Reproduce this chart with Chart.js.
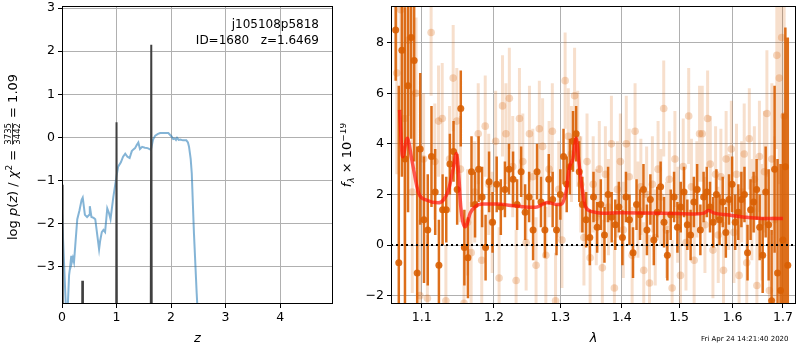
<!DOCTYPE html>
<html>
<head>
<meta charset="utf-8">
<script src="https://cdn.jsdelivr.net/npm/chart.js@4/dist/chart.umd.min.js"></script>
<style>
  body { margin: 0; background: #fff; }
  #wrap { position: relative; width: 800px; height: 350px; }
  #pzBox { position: absolute; left: 0; top: 0; width: 340px; height: 350px; }
  #specBox { position: absolute; left: 340px; top: 0; width: 460px; height: 350px; }
  #stamp { position: absolute; left: 701px; top: 335px; font: 7px "DejaVu Sans", sans-serif; color: #000; white-space: nowrap; }
</style>
</head>
<body>
<div id="wrap">
  <div id="pzBox"><canvas id="pzChart"></canvas></div>
  <div id="specBox"><canvas id="specChart"></canvas></div>
  <div id="stamp">Fri Apr 24 14:21:40 2020</div>
</div>
<script>
// ---- left panel: log p(z) ----
const pzZ = [0.0, 0.03, 0.06, 0.08, 0.10, 0.13, 0.15, 0.17, 0.18, 0.20, 0.22, 0.25, 0.28, 0.32, 0.36, 0.38, 0.40, 0.42, 0.46, 0.50,
             0.51, 0.54, 0.58, 0.61, 0.65, 0.68, 0.70, 0.73, 0.76, 0.79, 0.83, 0.86, 0.89, 0.94, 1.0, 1.03, 1.08, 1.12, 1.16, 1.20,
             1.24, 1.28, 1.31, 1.34, 1.37, 1.40, 1.43, 1.47, 1.52, 1.57, 1.63, 1.67, 1.71, 1.76, 1.80, 1.88, 1.95, 2.01, 2.04, 2.07,
             2.09, 2.11, 2.14, 2.17, 2.22, 2.28, 2.31, 2.33, 2.36, 2.38, 2.42, 2.47, 2.52];
const pzLog = [-1.75, -2.7, -3.6, -4.2, -4.1, -3.2, -3.0, -2.75, -2.9, -2.8, -2.9, -2.4, -1.9, -1.7, -1.45, -1.4, -1.6, -1.8, -1.85, -1.8,
               -1.6, -1.85, -1.87, -1.9, -2.3, -2.6, -2.4, -2.2, -2.15, -2.2, -1.65, -1.75, -1.9, -1.4, -0.9, -0.68, -0.58, -0.45, -0.38, -0.45,
               -0.48, -0.32, -0.28, -0.25, -0.18, -0.12, -0.27, -0.22, -0.24, -0.25, -0.29, -0.05, 0.04, 0.08, 0.10, 0.10, 0.10, 0.02, -0.04, -0.03,
               -0.06, -0.01, -0.06, -0.05, -0.07, -0.07, -0.12, -0.22, -0.5, -0.84, -2.23, -3.62, -4.8];

const spikeZ = [0.0, 0.008, 0.014, 0.02, 0.36, 0.372, 0.384, 0.985, 1.0, 1.015, 1.618, 1.637, 1.656, 1.7];
const spikeLog = [-1.1, -1.14, -1.12, -12, -12, -3.33, -12, -12, 0.35, -12, -12, 2.15, -12, -12];

const zTicks = [0, 1, 2, 3, 4];
const pzTicks = [-3, -2, -1, 0, 1, 2, 3];

// ---- right panel: spectrum ----
const darkWave = [1.066,1.070,1.074,1.078,1.082,1.086,1.090,1.094,1.098,1.103,
                  1.108,1.113,1.118,1.123,1.128,1.133,1.138,1.143,1.148,1.153,
                  1.158,1.163,1.168,1.173,1.178,1.183,1.188,1.193,1.198,1.204,
                  1.210,1.216,1.222,1.228,1.234,1.240,1.246,1.252,1.258,1.264,
                  1.270,1.276,1.282,1.288,1.294,1.300,1.305,1.310,1.315,1.320,
                  1.325,1.330,1.335,1.341,1.347,1.353,1.359,1.365,1.371,1.377,
                  1.383,1.389,1.395,1.401,1.407,1.413,1.419,1.425,1.431,1.437,
                  1.443,1.449,1.455,1.461,1.467,1.473,1.479,1.485,1.491,1.497,
                  1.503,1.509,1.515,1.521,1.527,1.533,1.539,1.545,1.551,1.557,
                  1.563,1.569,1.575,1.581,1.587,1.593,1.599,1.605,1.611,1.617,
                  1.623,1.629,1.635,1.641,1.647,1.653,1.659,1.665,1.671,1.677,
                  1.683,1.689,1.695,1.700,1.705,1.710];
const darkFlux = [8.5,-0.7,7.7,3.4,6.3,8.2,7.3,-1.1,3.8,1.0,
                  0.6,3.5,2.1,-0.8,1.4,1.4,3.2,3.7,2.2,5.4,
                  -0.1,-0.5,2.9,1.6,3.0,1.9,-0.1,2.5,0.9,2.4,
                  1.5,2.2,3.0,2.6,1.6,2.9,1.3,1.9,0.6,2.9,
                  1.7,0.6,2.6,1.8,0.6,2.0,3.5,2.4,3.1,4.1,
                  4.4,2.9,1.6,1.0,0.3,1.9,0.7,1.6,0.4,2.0,
                  1.1,0.8,1.5,0.3,1.9,1.0,-0.3,1.6,1.2,2.2,
                  0.6,1.8,0.2,1.3,2.3,0.9,-0.4,1.2,1.9,0.7,
                  1.5,2.1,0.8,0.4,1.7,2.2,0.6,1.9,2.1,1.5,
                  0.9,2.0,1.0,1.7,0.5,1.8,2.4,0.9,1.3,1.8,
                  2.0,-0.3,1.4,1.7,2.2,0.7,-0.4,2.1,0.8,-2.2,
                  3.0,-1.1,-1.8,0.2,3.1,-0.8];
const darkErr = [2.0,7.0,5.0,6.0,5.0,4.0,4.0,5.0,3.0,2.5,
                 2.2,2.0,1.7,1.8,1.4,1.3,1.2,1.2,1.4,1.5,
                 1.5,1.6,1.4,1.3,1.3,1.2,1.3,1.2,1.2,1.1,
                 1.1,1.1,1.0,1.1,1.0,1.0,1.1,1.0,1.2,1.1,
                 1.0,1.1,1.0,1.1,1.0,1.0,1.1,1.1,1.1,1.2,
                 1.1,1.2,1.1,1.1,1.1,1.0,1.0,1.0,1.1,1.1,
                 1.0,1.0,1.0,1.1,1.0,1.0,1.0,1.0,1.0,1.0,
                 1.0,1.0,1.0,1.0,1.0,1.0,1.0,1.0,1.0,1.0,
                 1.0,1.0,1.0,1.0,1.0,1.0,1.0,1.0,1.0,1.0,
                 1.0,1.0,1.0,1.0,1.0,1.0,1.1,1.1,1.1,1.1,
                 1.1,1.1,1.2,1.2,1.2,1.3,1.5,1.8,2.2,2.8,
                 3.3,4.5,5.0,5.0,5.5,9.0];

const lightWave = [1.0675,1.0725,1.0775,1.0825,1.0875,1.0925,1.0975,1.1025,1.1075,1.1125,
                   1.1175,1.1225,1.1275,1.1325,1.1375,1.1425,1.1475,1.1525,1.1575,1.1625,
                   1.1675,1.1725,1.1775,1.1825,1.1875,1.1925,1.1975,1.2025,1.2075,1.2125,
                   1.2175,1.2225,1.2275,1.2325,1.2375,1.2425,1.2475,1.2525,1.2575,1.2625,
                   1.2675,1.2725,1.2775,1.2825,1.2875,1.2925,1.2975,1.3025,1.3075,1.3125,
                   1.3175,1.3225,1.3275,1.3325,1.3375,1.3425,1.3475,1.3525,1.3575,1.3625,
                   1.3675,1.3725,1.3775,1.3825,1.3875,1.3925,1.3975,1.4025,1.4075,1.4125,
                   1.4175,1.4225,1.4275,1.4325,1.4375,1.4425,1.4475,1.4525,1.4575,1.4625,
                   1.4675,1.4725,1.4775,1.4825,1.4875,1.4925,1.4975,1.5025,1.5075,1.5125,
                   1.5175,1.5225,1.5275,1.5325,1.5375,1.5425,1.5475,1.5525,1.5575,1.5625,
                   1.5675,1.5725,1.5775,1.5825,1.5875,1.5925,1.5975,1.6025,1.6075,1.6125,
                   1.6175,1.6225,1.6275,1.6325,1.6375,1.6425,1.6475,1.6525,1.6575,1.6625,
                   1.6675,1.6725,1.6775,1.6825,1.6875,1.6925,1.6975,1.7025];
const lightFlux = [6.8,9.3,5.0,8.1,2.1,6.0,-2.0,3.4,-2.1,8.4,
                   3.3,4.9,5.0,-2.2,3.4,6.6,4.9,3.0,-2.3,0.9,
                   -0.3,2.1,4.4,-0.6,4.7,2.4,0.9,4.1,-1.3,5.5,
                   4.4,5.8,3.1,-1.4,5.0,3.3,0.1,4.4,2.7,-0.8,
                   4.6,3.9,-0.4,3.0,4.5,-2.2,2.2,0.2,6.5,4.3,
                   3.6,5.9,4.2,2.4,0.3,3.3,-0.5,2.4,1.1,3.0,
                   -0.9,2.8,1.5,4.0,-1.7,2.2,3.3,0.6,4.0,2.7,
                   -0.4,4.5,1.4,2.3,-1.0,2.0,-1.5,2.4,0.3,3.0,
                   1.9,5.4,0.6,2.6,-1.7,3.4,1.2,-1.2,3.1,0.1,
                   5.1,2.3,-0.6,2.2,4.4,4.4,0.8,5.0,3.2,-0.2,
                   2.8,0.4,2.7,-1.0,3.4,1.7,3.8,0.5,2.8,-1.2,
                   2.1,3.6,-0.7,4.2,1.4,2.6,-1.6,3.5,0.9,2.9,
                   5.2,-1.8,3.4,1.0,7.5,6.6,8.2,5.1];
const lightErr = [4.0,4.0,5.0,3.0,4.0,3.0,3.0,2.6,2.5,2.5,
                  2.3,2.2,2.2,2.2,2.1,2.1,2.1,2.1,2.1,2.1,
                  2.0,2.0,2.0,2.0,2.0,2.0,2.0,2.0,2.0,2.0,
                  2.0,2.0,2.0,2.0,2.0,1.9,1.9,1.9,1.9,1.9,
                  1.9,1.9,1.9,1.9,1.9,1.9,1.9,1.9,1.9,1.9,
                  1.9,1.9,1.9,1.9,1.9,1.9,1.9,1.9,1.9,1.9,
                  1.9,1.9,1.9,1.9,1.9,1.9,1.9,1.9,1.9,1.9,
                  1.9,1.9,1.9,1.9,1.9,1.9,1.9,1.9,1.9,1.9,
                  1.9,1.9,1.9,1.9,1.9,1.9,1.9,1.9,1.9,1.9,
                  1.9,1.9,1.9,1.9,1.9,1.9,1.9,1.9,1.9,1.9,
                  1.9,1.9,1.9,1.9,1.9,1.9,1.9,2.0,2.0,2.0,
                  2.0,2.0,2.0,2.0,2.0,2.1,2.2,2.2,2.3,2.4,
                  2.5,2.7,3.0,3.3,3.7,4.2,5.0,5.0];

const modelWave = [1.071,1.075,1.081,1.087,1.096,1.106,1.122,1.129,1.136,1.143,
                   1.147,1.150,1.153,1.159,1.162,1.166,1.173,1.184,1.203,1.233,
                   1.262,1.273,1.280,1.296,1.301,1.309,1.314,1.320,1.325,1.329,
                   1.335,1.340,1.351,1.367,1.397,1.473,1.531,1.546,1.554,1.565,
                   1.593,1.624,1.657,1.700];
const modelFlux = [5.34,3.49,4.22,3.36,2.04,1.78,1.67,1.78,2.17,3.09,
                   3.62,2.83,1.51,0.72,0.86,1.25,1.51,1.62,1.62,1.54,
                   1.49,1.62,1.68,1.60,1.60,2.10,3.03,3.43,4.22,3.36,
                   2.17,1.51,1.32,1.26,1.28,1.26,1.23,1.26,1.37,1.26,
                   1.19,1.10,1.05,1.05];

const zeroWave = [1.06, 1.727];
const zeroFlux = [0, 0];

const waveTicks = [1.1, 1.2, 1.3, 1.4, 1.5, 1.6, 1.7];
const fluxTicks = [-2, 0, 2, 4, 6, 8];

// ---- helpers ----
const FONT = '"DejaVu Sans", sans-serif';
Chart.defaults.font.family = FONT;
Chart.defaults.font.size = 12.5;
Chart.defaults.color = '#000';
Chart.defaults.animation = false;

const DARK = 'rgba(217,95,2,0.9)';
const LIGHT = 'rgba(217,95,2,0.2)';
const LIGHT_PT = 'rgba(217,95,2,0.25)';

function xy(xs, ys) {
  return xs.map((x, i) => ({ x: x, y: ys[i] }));
}

// vertical error segments, separated by gaps
function errSegments(wave, flux, err) {
  const out = [];
  wave.forEach((w, i) => {
    out.push({ x: w, y: flux[i] - err[i] }, { x: w, y: flux[i] + err[i] }, { x: w, y: null });
  });
  return out;
}

function minus(v) {
  return String(v).replace('-', '\u2212');
}

function gridOpts() {
  return { color: '#b0b0b0', lineWidth: 1, tickColor: '#000', tickLength: 4, drawTicks: true };
}

// drop the label overhang padding so the plot area sits where we want it
function noPad(s) {
  s.paddingTop = 0;
  s.paddingBottom = 0;
  s.paddingLeft = 0;
  s.paddingRight = 0;
}

// black frame round the plot area
const framePlugin = {
  id: 'frame',
  afterDatasetsDraw(chart) {
    const a = chart.chartArea, ctx = chart.ctx;
    ctx.save();
    ctx.strokeStyle = '#000';
    ctx.lineWidth = 1;
    ctx.strokeRect(a.left + 0.5, a.top + 0.5, a.right - a.left - 1, a.bottom - a.top - 1);
    ctx.restore();
  }
};

// rotated label made of pieces (italic, sub/superscript, fraction)
function drawRich(ctx, parts, cx, cy) {
  ctx.save();
  ctx.translate(cx, cy);
  ctx.rotate(-Math.PI / 2);
  ctx.fillStyle = '#000';
  let total = 0;
  parts.forEach(p => {
    ctx.font = p.font;
    if (p.frac) {
      p.w = Math.max(ctx.measureText(p.frac[0]).width, ctx.measureText(p.frac[1]).width) + 2;
    } else {
      p.w = ctx.measureText(p.t).width;
    }
    total += p.w;
  });
  let x = -total / 2;
  const base = 5;
  ctx.textBaseline = 'alphabetic';
  parts.forEach(p => {
    ctx.font = p.font;
    if (p.frac) {
      ctx.textAlign = 'center';
      const bar = base - 4.5;
      ctx.fillText(p.frac[0], x + p.w / 2, bar - 1.5);
      ctx.fillText(p.frac[1], x + p.w / 2, bar + 7.5);
      ctx.fillRect(x + 1, bar - 0.4, p.w - 2, 0.8);
      ctx.textAlign = 'left';
    } else {
      ctx.textAlign = 'left';
      ctx.fillText(p.t, x, base + (p.dy || 0));
    }
    x += p.w;
  });
  ctx.restore();
}

const N = '13px ' + FONT, I = 'italic 13px ' + FONT, S = '9px ' + FONT, SI = 'italic 9px ' + FONT, F = '8.5px ' + FONT;

const pzLabelPlugin = {
  id: 'pzLabel',
  afterDraw(chart) {
    const a = chart.chartArea, ctx = chart.ctx;
    drawRich(ctx, [
      { t: 'log ', font: N }, { t: 'p', font: I }, { t: '(', font: N }, { t: 'z', font: I }, { t: ') / ', font: N },
      { t: '\u03c7', font: I }, { t: '2', font: S, dy: -5 }, { t: ' = ', font: N },
      { frac: ['3735', '3442'], font: F }, { t: ' = 1.09', font: N }
    ], 12, (a.top + a.bottom) / 2 + 2);
    ctx.save();
    ctx.font = '12px ' + FONT;
    ctx.textAlign = 'right';
    ctx.fillStyle = '#000';
    ctx.fillText('j105108p5818', a.right - 14, a.top + 22);
    ctx.fillText('ID=1680   z=1.6469', a.right - 14, a.top + 38);
    ctx.restore();
  }
};

const specLabelPlugin = {
  id: 'specLabel',
  afterDraw(chart) {
    const a = chart.chartArea;
    drawRich(chart.ctx, [
      { t: 'f', font: I }, { t: '\u03bb', font: SI, dy: 3 }, { t: ' \u00d7 10', font: N }, { t: '\u221219', font: S, dy: -5 }
    ], 6, (a.top + a.bottom) / 2);
  }
};

// ---- left chart ----
new Chart(document.getElementById('pzChart'), {
  type: 'line',
  data: {
    datasets: [
      { data: xy(spikeZ, spikeLog), borderColor: '#404040', borderWidth: 2, pointRadius: 0, order: 1 },
      { data: xy(pzZ, pzLog), borderColor: 'rgba(31,119,180,0.55)', borderWidth: 2, pointRadius: 0, order: 2 }
    ]
  },
  options: {
    responsive: true,
    maintainAspectRatio: false,
    layout: { padding: { top: 6, right: 7, left: 0, bottom: 0 } },
    plugins: { legend: { display: false }, tooltip: { enabled: false } },
    scales: {
      x: {
        type: 'linear', min: 0, max: 4.97,
        afterBuildTicks: s => { s.ticks = zTicks.map(v => ({ value: v })); },
        afterFit: s => { s.height = 46; noPad(s); },
        ticks: { padding: 2, callback: v => minus(v) },
        grid: gridOpts(),
        border: { display: false },
        title: { display: true, text: 'z', font: { style: 'italic', size: 13 }, padding: { top: 2 } }
      },
      y: {
        min: -3.87, max: 3.05,
        afterBuildTicks: s => { s.ticks = pzTicks.map(v => ({ value: v })); },
        afterFit: s => { s.width = 62; noPad(s); },
        ticks: { padding: 3, callback: v => minus(v) },
        grid: gridOpts(),
        border: { display: false }
      }
    }
  },
  plugins: [framePlugin, pzLabelPlugin]
});

// ---- right chart ----
new Chart(document.getElementById('specChart'), {
  type: 'line',
  data: {
    datasets: [
      { data: errSegments(lightWave, lightFlux, lightErr), borderColor: LIGHT, borderWidth: 3, borderCapStyle: 'butt',
        pointRadius: 0, spanGaps: false, order: 6 },
      { data: xy(lightWave, lightFlux), showLine: false, pointRadius: 3.8, pointBackgroundColor: LIGHT_PT,
        pointBorderWidth: 0, order: 5 },
      { data: errSegments(darkWave, darkFlux, darkErr), borderColor: DARK, borderWidth: 2.5, borderCapStyle: 'butt',
        pointRadius: 0, spanGaps: false, order: 4 },
      { data: xy(darkWave, darkFlux), showLine: false, pointRadius: 3.5, pointBackgroundColor: DARK,
        pointBorderWidth: 0, order: 3 },
      { data: xy(modelWave, modelFlux), borderColor: 'rgba(255,20,10,0.7)', borderWidth: 3.5, pointRadius: 0,
        cubicInterpolationMode: 'monotone', order: 2 },
      { data: xy(zeroWave, zeroFlux), borderColor: '#000', borderWidth: 2, borderDash: [2, 3], pointRadius: 0, order: 1 }
    ]
  },
  options: {
    responsive: true,
    maintainAspectRatio: false,
    layout: { padding: { top: 6, right: 2, left: 0, bottom: 0 } },
    plugins: { legend: { display: false }, tooltip: { enabled: false } },
    scales: {
      x: {
        type: 'logarithmic', min: 1.06, max: 1.727,
        afterBuildTicks: s => { s.ticks = waveTicks.map(v => ({ value: v })); },
        afterFit: s => { s.height = 46; noPad(s); },
        ticks: { padding: 2, autoSkip: false, maxRotation: 0, callback: v => Number(v).toFixed(1) },
        grid: gridOpts(),
        border: { display: false },
        title: { display: true, text: '\u03bb', font: { style: 'italic', size: 13 }, padding: { top: 2 } }
      },
      y: {
        min: -2.33, max: 9.45,
        afterBuildTicks: s => { s.ticks = fluxTicks.map(v => ({ value: v })); },
        afterFit: s => { s.width = 51; noPad(s); },
        ticks: { padding: 3, callback: v => minus(v) },
        grid: gridOpts(),
        border: { display: false }
      }
    }
  },
  plugins: [framePlugin, specLabelPlugin]
});
</script>
</body>
</html>
